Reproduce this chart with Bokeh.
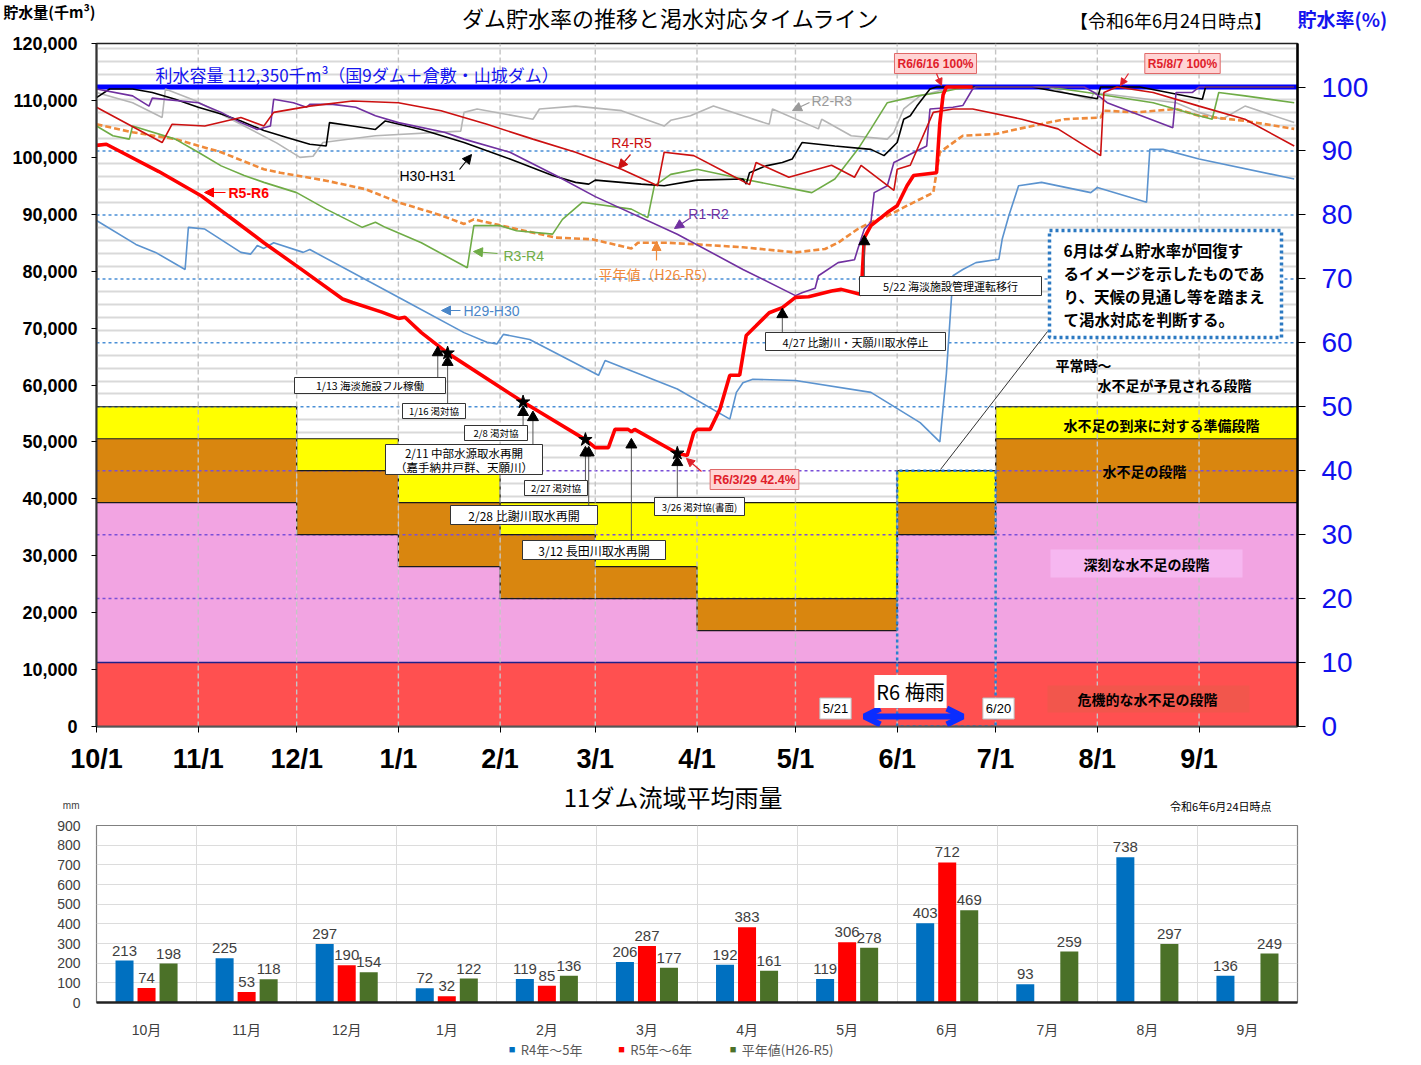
import pandas as pd
from bokeh.plotting import figure
from bokeh.models import (Range1d, LinearAxis, FixedTicker, NumeralTickFormatter,
                          Label, Arrow, NormalHead, OpenHead)
from bokeh.layouts import column
from bokeh.embed import file_html
from bokeh.resources import INLINE
from bokeh.core.properties import value

# ============================ DATA ============================
CAPACITY = 112350  # 千m3 (= 100 %)

month_ticks = ["10/1", "11/1", "12/1", "1/1", "2/1", "3/1", "4/1", "5/1", "6/1", "7/1", "8/1", "9/1"]

r5r6_dates = ["10/1","10/4","10/20","11/2","11/12","11/21","12/3","12/15","12/18","12/27","1/1","1/3","1/8","1/16","2/8","2/27","3/1","3/5","3/7","3/11","3/12","3/13","3/26","3/29","3/31","4/1","4/5","4/8","4/11","4/14","4/16","4/19","4/23","4/27","5/1","5/5","5/12","5/15","5/21","5/22","5/24","5/29","6/1","6/4","6/6","6/13","6/14","6/15","6/16","6/24"]
r5r6_vals = [102100,102300,97500,93200,88900,85000,80100,75100,74500,72800,71700,71900,69200,65600,57000,50400,49000,49000,52200,52200,51800,52200,48000,47600,51600,52200,52200,55800,61700,61700,68700,70400,72700,73600,75400,75500,76500,76800,75900,85900,88000,90300,91500,95000,96800,97300,106000,111000,112350,112350]

r4r5_dates = ["10/1","10/21","10/24","11/3","11/14","11/21","11/24","12/5","12/18","1/1","1/14","1/28","2/11","2/24","3/9","3/20","3/22","3/31","4/10","4/17","4/19","4/29","5/12","5/19","5/21","5/31","6/1","6/5","6/12","6/18","6/24","7/9","7/20","8/2","8/3","8/7","8/18","9/1","9/15","9/30"]
r4r5_vals = [108800,102600,105800,105500,107000,105500,107900,109000,109900,109600,108200,105800,103200,100900,97900,95000,100900,100300,97300,95200,99100,96500,98600,96500,98600,94200,97900,98600,107900,108500,108500,106700,105000,100300,111400,112350,111400,109000,106700,102000]

h30_dates = ["10/1","10/5","10/12","10/18","10/25","11/1","11/8","11/14","11/21","11/28","12/5","12/10","12/11","12/18","12/25","12/28","1/8","1/21","2/4","2/17","2/24","2/28","3/1","3/15","3/22","4/1","4/15","4/16","4/17","4/22","4/27","4/30","5/3","5/13","5/24","5/28","6/1","6/3","6/5","6/7","6/11","6/13","7/12","8/1","8/2","8/14","9/2","9/3","9/30"]
h30_vals = [110500,112000,112000,111400,110200,108800,107600,106400,104700,103500,102300,102000,106100,105500,104900,106400,104900,102600,99700,96800,95600,95300,96000,95300,95000,96000,96200,95300,97300,98500,99100,99700,102600,102000,101400,100300,102600,106700,107300,109000,112000,112350,112350,110300,112350,112350,110200,112350,112350]

r1r2_dates = ["10/1","10/12","10/17","10/18","11/1","11/8","11/14","11/19","11/23","11/24","11/30","12/4","12/5","12/12","12/19","12/25","1/1","1/15","1/21","2/4","2/18","3/1","3/26","4/15","5/1","5/3","5/7","5/8","5/14","5/19","5/20","5/22","5/24","5/25","5/29","5/31","6/10","6/11","6/18","6/21","6/24","6/25","7/28","7/31","8/4","8/24","8/25","8/30","9/1","9/30"]
r1r2_vals = [112000,110800,109000,110400,109600,107900,106100,104900,105500,110200,109600,108800,109300,109300,108800,107300,106100,104400,103200,100900,96800,93100,86500,80300,75700,76200,77000,79200,81500,82000,83900,87400,88600,93800,95000,99100,102000,108500,108800,109100,112000,112350,112350,111400,109600,105200,111400,111400,112350,112350]

r3r4_dates = ["10/1","10/6","10/11","10/12","10/25","11/1","11/8","11/15","11/21","12/1","12/10","12/21","12/25","12/28","1/8","1/22","1/24","2/1","2/6","2/17","2/20","2/26","3/12","3/17","3/19","3/24","4/1","4/15","5/6","5/13","5/20","5/24","5/29","6/7","6/14","6/19","6/27","7/17","7/29","8/18","9/1","9/5","9/7","9/15","9/30"]
r3r4_vals = [105500,103800,103200,105500,103200,100900,98500,96800,95600,93800,90900,87700,88600,87700,85000,80600,88000,88000,87100,86500,89100,92100,90900,89400,95000,97000,97900,96200,93800,96200,101400,105000,109600,110800,111400,112000,112350,112350,111400,109600,107300,106700,111400,110800,109600]

r2r3_dates = ["10/1","10/12","10/21","10/22","10/31","11/15","11/25","12/2","12/6","12/9","12/25","1/20","1/21","1/25","2/11","2/13","2/24","3/9","3/22","3/24","3/30","4/6","4/23","4/24","5/8","5/9","5/18","5/29","5/31","6/3","6/8","6/14","6/19","7/17","7/22","7/30","7/31","8/25","9/1","9/8","9/15","9/30"]
r2r3_vals = [111400,109600,107000,112000,110000,105500,102500,100000,100200,102600,103800,104600,107900,108500,106700,108500,109000,108200,105500,106500,107300,109000,105800,108500,105000,106700,103800,103200,104400,108500,110800,111700,112350,112350,111400,110200,111400,109600,107900,106700,109000,106100]

normal_dates = ["10/1","10/12","10/25","11/8","11/21","11/26","12/10","12/22","1/1","1/14","1/21","1/24","2/6","2/18","2/29","3/12","3/14","3/23","4/1","4/15","5/1","5/10","5/14","5/20","5/24","5/29","6/4","6/12","6/14","6/21","7/1","7/8","7/22","8/2","8/3","8/13","8/25","9/1","9/15","9/30"]
normal_vals = [105800,104400,103200,100900,97900,97300,95900,94400,92100,89800,88300,89100,87400,85900,85600,84000,85000,85000,84700,84200,83300,83900,85000,87400,88600,89700,91500,93800,100900,103800,104100,105000,106700,107000,108200,107900,108500,107300,106400,105000]

h29_dates = ["10/1","10/13","10/19","10/28","10/29","11/3","11/14","11/17","11/19","11/21","11/24","12/3","12/5","1/2","1/21","1/28","1/31","2/2","2/10","3/2","3/4","3/26","4/11","4/13","4/15","4/18","5/1","5/24","6/8","6/14","6/16","6/18","6/21","6/25","7/2","7/3","7/5","7/8","7/15","7/30","8/1","8/16","8/17","8/21","9/1","9/30"]
h29_vals = [88900,84700,83300,80300,87700,87400,83300,83000,84500,84000,85000,83300,83800,75100,69200,67500,67200,68900,68000,61700,64300,59300,54000,58700,60400,61000,60800,58700,53400,50000,62000,79200,80300,81500,82100,85600,89700,95000,95600,93800,94700,92100,101400,101400,99700,96200]

# drought-stage thresholds (% of capacity) per period
zone_starts = ["10/1", "12/1", "1/1", "2/1", "3/1", "4/1", "6/1", "7/1"]
zone_prep_top = [50, 45, 40, 35, 35, 35, 40, 50]
zone_short_top = [45, 40, 35, 30, 25, 20, 35, 45]
zone_severe_top = [35, 30, 25, 20, 20, 15, 30, 35]
zone_crisis_top = 10

# events
event_dates = ["1/13", "1/16", "2/8", "2/11", "2/27", "2/28", "3/12", "3/26", "4/27", "5/22"]
event_marker_vals = [65700, 64000, 55200, 54300, 48100, 48100, 49500, 46400, 72400, 85200]
event_texts = [["1/13 海淡施設フル稼働"], ["1/16 渇対協"], ["2/8 渇対協"],
               ["2/11 中部水源取水再開", "（嘉手納井戸群、天願川）"], ["2/27 渇対協"],
               ["2/28 比謝川取水再開"], ["3/12 長田川取水再開"], ["3/26 渇対協(書面)"],
               ["4/27 比謝川・天願川取水停止"], ["5/22 海淡施設管理運転移行"]]
star_dates = ["1/16", "2/8", "2/27", "3/26"]
star_vals = [65600, 57000, 50400, 48000]

rainy_start, rainy_end = "5/21", "6/20"

# rainfall chart
rain_months = ["10月", "11月", "12月", "1月", "2月", "3月", "4月", "5月", "6月", "7月", "8月", "9月"]
rain_r4r5 = [213, 225, 297, 72, 119, 206, 192, 119, 403, 93, 738, 136]
rain_r5r6 = [74, 53, 190, 32, 85, 287, 383, 306, 712]
rain_normal = [198, 118, 154, 122, 136, 177, 161, 278, 469, 259, 297, 249]

# ============================ HELPERS ============================
JP = "Noto Sans CJK JP"
SANS = "'Liberation Sans', 'Noto Sans CJK JP', sans-serif"
W = 1405
BL, BR = 91, 113          # common left/right borders of every panel
FX0, FX1, FY0, FY1 = 99, 1300, 51, 734      # main frame position (page px)
X_END = 366


def day(md):
    m, d = (int(v) for v in md.split("/"))
    return (pd.Timestamp(2023 if m >= 10 else 2024, m, d) - pd.Timestamp(2023, 10, 1)).days


def pct(v):
    return v * CAPACITY / 100.0


def tx(px):
    return (px - FX0) * X_END / (FX1 - FX0)


def ty(py):
    return (FY1 - py) * 120000 / (FY1 - FY0)


def label(p, x, y, text, size, color="black", bold=False, font=JP, align="center",
          baseline="middle", bg=None, border=None, pad=0, border_width=1):
    p.add_layout(Label(x=x, y=y, text=text, text_font=font, text_font_size=f"{size}px",
                       text_color=color, text_font_style="bold" if bold else "normal",
                       text_align=align, text_baseline=baseline,
                       background_fill_color=bg, border_line_color=border,
                       border_line_width=border_width, padding=pad))


def arrow(p, x0, y0, x1, y1, color, size=9, width=1.2):
    p.add_layout(Arrow(end=NormalHead(size=size, fill_color=color, line_color=color),
                       x_start=x0, y_start=y0, x_end=x1, y_end=y1,
                       line_color=color, line_width=width))


def side_text(f, side, py, text, size, color="black", bold=False, font=JP, standoff=4):
    ax = LinearAxis(ticker=FixedTicker(ticks=[py]), major_label_overrides={py: text})
    ax.axis_line_color = None
    ax.major_tick_line_color = None
    ax.minor_tick_line_color = None
    ax.major_tick_out = 0
    ax.major_tick_in = 0
    ax.major_label_standoff = standoff
    ax.major_label_text_font = font
    ax.major_label_text_font_size = f"{size}px"
    ax.major_label_text_color = color
    ax.major_label_text_font_style = "bold" if bold else "normal"
    f.add_layout(ax, side)


def strip(top, height):
    """text strip covering page rows top..top+height; data coords = page px"""
    f = figure(width=W, height=height, x_range=Range1d(FX0, FX1),
               y_range=Range1d(top + height, top), output_backend="svg",
               toolbar_location=None, min_border_left=BL, min_border_right=BR,
               min_border_top=0, min_border_bottom=0,
               x_axis_location=None, y_axis_location=None)
    f.outline_line_color = None
    f.grid.grid_line_color = None
    f.background_fill_color = "white"
    f.border_fill_color = "white"
    return f


# ============================ HEADER ============================
head1 = strip(8, 32)
side_text(head1, "left", 19, "貯水量(千m³)", 15, bold=True, standoff=1)
side_text(head1, "right", 26, "貯水率(%)", 19, color="#1515ee", bold=True, standoff=5)
label(head1, 676, 24, "ダム貯水率の推移と渇水対応タイムライン", 22)
label(head1, 1178, 27, "【令和6年6月24日時点】", 18)

# ============================ MAIN CHART ============================
p = figure(frame_width=FX1 - FX0, frame_height=FY1 - FY0, x_range=Range1d(0, X_END),
           y_range=Range1d(0, 120000), output_backend="svg", toolbar_location=None,
           min_border_left=BL, min_border_right=BR, min_border_top=11, min_border_bottom=52)
p.background_fill_color = "white"
p.border_fill_color = "white"
p.outline_line_color = "#222222"
p.outline_line_width = 1.5
p.xgrid.grid_line_color = None
p.ygrid.ticker = FixedTicker(ticks=[pct(k) for k in range(2, 107, 2) if k % 10])
p.ygrid.grid_line_color = "#d9d9d9"
p.ygrid.grid_line_width = 2

yax = p.yaxis[0]
yax.ticker = FixedTicker(ticks=list(range(0, 120001, 10000)))
yax.formatter = NumeralTickFormatter(format="0,0")
yax.major_label_text_font = SANS
yax.major_label_text_font_size = "18px"
yax.major_label_text_font_style = "bold"
yax.major_label_text_color = "black"
yax.axis_line_width = 2
yax.axis_line_color = "#333333"
yax.major_tick_out = 5
yax.major_tick_in = 0
yax.minor_tick_line_color = None
yax.major_label_standoff = 14

mdays = [day(m) for m in month_ticks]
xax = p.xaxis[0]
xax.ticker = FixedTicker(ticks=mdays)
xax.major_label_overrides = {d: m for d, m in zip(mdays, month_ticks)}
xax.major_label_text_font = SANS
xax.major_label_text_font_size = "27px"
xax.major_label_text_font_style = "bold"
xax.major_label_text_color = "black"
xax.axis_line_width = 2
xax.axis_line_color = "#555555"
xax.major_tick_out = 6
xax.major_tick_in = 0
xax.minor_tick_line_color = None
xax.major_label_standoff = 11

p.extra_y_ranges = {"pct": Range1d(0, 120000 / CAPACITY * 100)}
rax = LinearAxis(y_range_name="pct", ticker=FixedTicker(ticks=list(range(0, 101, 10))))
rax.major_label_text_font = SANS
rax.major_label_text_font_size = "28px"
rax.major_label_text_color = "#1010ee"
rax.axis_line_width = 2.5
rax.axis_line_color = "black"
rax.major_tick_out = 8
rax.major_tick_in = 0
rax.minor_tick_line_color = None
rax.major_label_standoff = 16
p.add_layout(rax, "right")

# stage zones
zs = [day(d) for d in zone_starts]
ze = zs[1:] + [X_END]
n = len(zs)
p.quad(left=[0], right=[X_END], bottom=[0], top=[pct(zone_crisis_top)],
       fill_color="#ff5050", line_color=None)
p.quad(left=zs, right=ze, bottom=[pct(zone_crisis_top)] * n, top=[pct(v) for v in zone_severe_top],
       fill_color="#f2a4e2", line_color=None)
p.quad(left=zs, right=ze, bottom=[pct(v) for v in zone_severe_top], top=[pct(v) for v in zone_short_top],
       fill_color="#d9860f", line_color=None)
p.quad(left=zs, right=ze, bottom=[pct(v) for v in zone_short_top], top=[pct(v) for v in zone_prep_top],
       fill_color="#ffff00", line_color=None)

# 10% dotted reference lines
lv_hi = [50, 60, 70, 80, 90]
lv_lo = [20, 30, 40]
p.segment(x0=[0] * len(lv_hi), x1=[X_END] * len(lv_hi), y0=[pct(v) for v in lv_hi],
          y1=[pct(v) for v in lv_hi], line_color="#4a8fd6", line_width=1.5, line_dash="3 3")
p.segment(x0=[0] * len(lv_lo), x1=[X_END] * len(lv_lo), y0=[pct(v) for v in lv_lo],
          y1=[pct(v) for v in lv_lo], line_color="#7a4fd8", line_width=1.5, line_dash="3 3")

for arr in (zone_prep_top, zone_short_top, zone_severe_top):
    p.step(x=zs + [X_END], y=[pct(v) for v in arr] + [pct(arr[-1])], mode="after",
           line_color="#1a1a1a", line_width=1.2)
p.line([0, X_END], [pct(zone_crisis_top)] * 2, line_color="#20208a", line_width=1.5)

# month grid lines
p.segment(x0=mdays[1:], x1=mdays[1:], y0=[0] * 11, y1=[120000] * 11,
          line_color="#c4c4c4", line_width=1.4, line_dash="5 3")

# capacity line
p.line([0, X_END], [CAPACITY, CAPACITY], line_color="#0000ff", line_width=5)

series = [
    (h29_dates, h29_vals, "#5b93cf", 1.6, "solid"),
    (r2r3_dates, r2r3_vals, "#b5b5b5", 1.6, "solid"),
    (normal_dates, normal_vals, "#ef8a3a", 2.6, "6 3"),
    (r3r4_dates, r3r4_vals, "#6fac46", 1.6, "solid"),
    (h30_dates, h30_vals, "#000000", 1.6, "solid"),
    (r1r2_dates, r1r2_vals, "#7030a0", 1.6, "solid"),
    (r4r5_dates, r4r5_vals, "#cc1010", 1.6, "solid"),
    (r5r6_dates, r5r6_vals, "#ff0000", 3.6, "solid"),
]
for dts, vals, col, w, dash in series:
    p.line([day(d) for d in dts], vals, line_color=col, line_width=w, line_dash=dash)

# June dotted rectangle
jx0, jx1 = day("6/1"), day("7/1")
p.line([jx0, jx0, jx1, jx1, jx0], [0, pct(40), pct(40), 0, 0], line_color="#2a7fd0",
       line_width=2.5, line_dash="3 3")

# event boxes
event_box_px = [(297, 448, 385, 401), (405, 468, 411, 426), (467, 530, 433, 448),
                (388, 545, 452, 482), (527, 590, 488, 503), (453, 600, 513, 532),
                (525, 668, 548, 567), (657, 747, 505, 523), (768, 948, 340, 358),
                (862, 1044, 284, 303)]
event_font = [10.5, 9.5, 9.5, 11.5, 9.5, 12, 12, 9.5, 11, 11]
edays = [day(d) for d in event_dates]
p.segment(x0=edays, x1=edays, y0=event_marker_vals, y1=[ty(b[2]) for b in event_box_px],
          line_color="#555555", line_width=1)
p.quad(left=[tx(b[0]) for b in event_box_px], right=[tx(b[1]) for b in event_box_px],
       top=[ty(b[2]) for b in event_box_px], bottom=[ty(b[3]) for b in event_box_px],
       fill_color="white", line_color="#333333", line_width=1)
for b, lines, fs in zip(event_box_px, event_texts, event_font):
    cx = (b[0] + b[1]) / 2
    if len(lines) == 1:
        label(p, tx(cx), ty((b[2] + b[3]) / 2), lines[0], fs)
    else:
        label(p, tx(cx), ty(b[2] + 8), lines[0], fs)
        label(p, tx(cx), ty(b[2] + 22), lines[1], fs)
p.scatter(edays, event_marker_vals, marker="triangle", size=11, color="black")
p.scatter([day(d) for d in star_dates], star_vals, marker="star", size=14, color="black")

# note box
p.quad(left=[tx(1052)], right=[tx(1284)], top=[ty(238)], bottom=[ty(345)], fill_color="white",
       line_color="#2b79c2", line_width=3.5, line_dash="3 3")
note_lines = ["6月はダム貯水率が回復す", "るイメージを示したものであ", "り、天候の見通し等を踏まえ", "て渇水対応を判断する。"]
for i, t in enumerate(note_lines):
    label(p, tx(1066), ty(257 + 23 * i), t, 15.5, bold=True, align="left")
p.segment(x0=[tx(1050)], y0=[ty(339)], x1=[tx(943)], y1=[ty(477)], line_color="#333333", line_width=1)

# zone labels
p.quad(left=[tx(1053)], right=[tx(1245)], top=[ty(557)], bottom=[ty(585)], fill_color="#f6b7f0", line_color=None)
p.quad(left=[tx(1050)], right=[tx(1252)], top=[ty(693)], bottom=[ty(720)], fill_color="#f2564c", line_color=None)
label(p, tx(1058), ty(372), "平常時～", 14, bold=True, align="left")
label(p, tx(1100), ty(392), "水不足が予見される段階", 14, bold=True, align="left")
label(p, tx(1164), ty(432), "水不足の到来に対する準備段階", 14, bold=True)
label(p, tx(1147), ty(478), "水不足の段階", 14, bold=True)
label(p, tx(1149), ty(571), "深刻な水不足の段階", 14, bold=True)
label(p, tx(1150), ty(706), "危機的な水不足の段階", 14, bold=True)

# rainy season
p.add_layout(Arrow(start=OpenHead(size=16, line_color="#0a2dff", line_width=6),
                   end=OpenHead(size=16, line_color="#0a2dff", line_width=6),
                   x_start=day(rainy_start) + 1, x_end=day(rainy_end) + 1, y_start=ty(724), y_end=ty(724),
                   line_color="#0a2dff", line_width=6))
label(p, tx(913), ty(699), "R6 梅雨", 20, bg="white", pad=2)
label(p, tx(838), ty(716), rainy_start, 13, font=SANS, bg="white", border="#bbbbbb", pad=3)
label(p, tx(1001), ty(716), rainy_end, 13, font=SANS, bg="white", border="#bbbbbb", pad=3)

# series labels with pointers
label(p, tx(231), ty(200), "R5-R6", 14, color="#ff0000", bold=True, font=SANS, align="left")
arrow(p, tx(228), ty(200), tx(207), ty(200), "#ff0000")
label(p, tx(430), ty(183), "H30-H31", 14, font=SANS)
arrow(p, tx(462), ty(177), tx(474), ty(162), "#000000")
label(p, tx(634), ty(150), "R4-R5", 14, color="#cc1010", font=SANS)
arrow(p, tx(633), ty(162), tx(621), ty(176), "#cc1010")
label(p, tx(814), ty(108), "R2-R3", 14, color="#9a9a9a", font=SANS, align="left")
arrow(p, tx(812), ty(110), tx(795), ty(118), "#9a9a9a")
label(p, tx(711), ty(221), "R1-R2", 14, color="#7030a0", font=SANS)
arrow(p, tx(692), ty(226), tx(677), ty(236), "#7030a0")
label(p, tx(506), ty(263), "R3-R4", 14, color="#6fac46", font=SANS, align="left")
arrow(p, tx(500), ty(261), tx(476), ty(259), "#6fac46")
label(p, tx(601), ty(281), "平年値（H26-R5）", 14, color="#ef8a3a", align="left")
arrow(p, tx(659), ty(268), tx(659), ty(249), "#ef8a3a")
label(p, tx(466), ty(318), "H29-H30", 14, color="#4a86c8", font=SANS, align="left")
arrow(p, tx(463), ty(318), tx(444), ty(318), "#4a86c8")

# red callouts
label(p, tx(938), ty(71), "R6/6/16 100%", 12, color="#e0202a", bold=True, font=SANS,
      bg="#ffd4d4", border="#e06868", pad=3)
arrow(p, tx(939), ty(81), tx(944), ty(93), "#e0202a", size=7)
label(p, tx(1185), ty(71), "R5/8/7 100%", 12, color="#e0202a", bold=True, font=SANS,
      bg="#ffd4d4", border="#e06868", pad=3)
arrow(p, tx(1131), ty(81), tx(1123), ty(93), "#e0202a", size=7)
label(p, tx(757), ty(487), "R6/3/29 42.4%", 12.5, color="#e0202a", bold=True, font=SANS,
      bg="#ffd4d4", border="#e06868", pad=3)
arrow(p, tx(704), ty(479), tx(689), ty(466), "#e0202a", size=8)

label(p, tx(158), ty(82), "利水容量 112,350千m³（国9ダム＋倉敷・山城ダム）", 17, color="#1515ee", align="left")

# ============================ RAINFALL CHART ============================
head2 = strip(786, 36)
label(head2, 678, 804, "11ダム流域平均雨量", 24)
label(head2, 1228, 813, "令和6年6月24日時点", 11)
side_text(head2, "left", 813, "mm", 10, color="#404040", font=SANS, standoff=17)

p2 = figure(frame_width=FX1 - FX0, frame_height=177, x_range=Range1d(0, 12), y_range=Range1d(0, 900),
            output_backend="svg", toolbar_location=None,
            min_border_left=BL, min_border_right=BR, min_border_top=11, min_border_bottom=30)
p2.background_fill_color = "white"
p2.border_fill_color = "white"
p2.outline_line_color = "#808080"
p2.outline_line_width = 1.2
p2.xgrid.ticker = FixedTicker(ticks=list(range(13)))
p2.xgrid.grid_line_color = "#dcdcdc"
p2.ygrid.ticker = FixedTicker(ticks=list(range(0, 901, 100)))
p2.ygrid.grid_line_color = "#dcdcdc"

xs = [i + 0.5 for i in range(12)]
off, bw = 0.22, 0.18
bars = [
    ([x - off for x in xs], rain_r4r5, "#0070c0"),
    (xs[:len(rain_r5r6)], rain_r5r6, "#ff0000"),
    ([x + off for x in xs], rain_normal, "#4b7128"),
]
for bxs, vals, col in bars:
    p2.vbar(x=bxs, top=vals, width=bw, fill_color=col, line_color=None)
    p2.text(x=bxs, y=vals, text=[str(v) for v in vals], text_font=value(SANS),
            text_font_size=value("15px"), text_color="#404040", text_align="center",
            text_baseline="bottom", y_offset=-5)

a2x = p2.xaxis[0]
a2x.ticker = FixedTicker(ticks=xs)
a2x.major_label_overrides = {x: m for x, m in zip(xs, rain_months)}
a2x.major_label_text_font = SANS
a2x.major_label_text_font_size = "14px"
a2x.major_label_text_color = "#404040"
a2x.major_tick_line_color = None
a2x.minor_tick_line_color = None
a2x.axis_line_color = "#222222"
a2x.axis_line_width = 2.5
a2x.major_label_standoff = 13

a2y = p2.yaxis[0]
a2y.ticker = FixedTicker(ticks=list(range(0, 901, 100)))
a2y.major_label_text_font = SANS
a2y.major_label_text_font_size = "14px"
a2y.major_label_text_color = "#404040"
a2y.axis_line_color = None
a2y.major_tick_line_color = None
a2y.minor_tick_line_color = None
a2y.major_label_standoff = 10

foot = strip(1040, 17)
legend_items = [("R4年～5年", "#0070c0", 513), ("R5年～6年", "#ff0000", 623), ("平年値(H26-R5)", "#4b7128", 735)]
for txt, col, lx in legend_items:
    label(foot, lx, 1048.5, "■", 11, color=col, font=SANS, align="left")
    label(foot, lx + 12, 1048.5, txt, 13, color="#595959", align="left")

layout = column(head1, p, head2, p2, foot, spacing=0)
open("out.html", "w").write(file_html(layout, INLINE))
